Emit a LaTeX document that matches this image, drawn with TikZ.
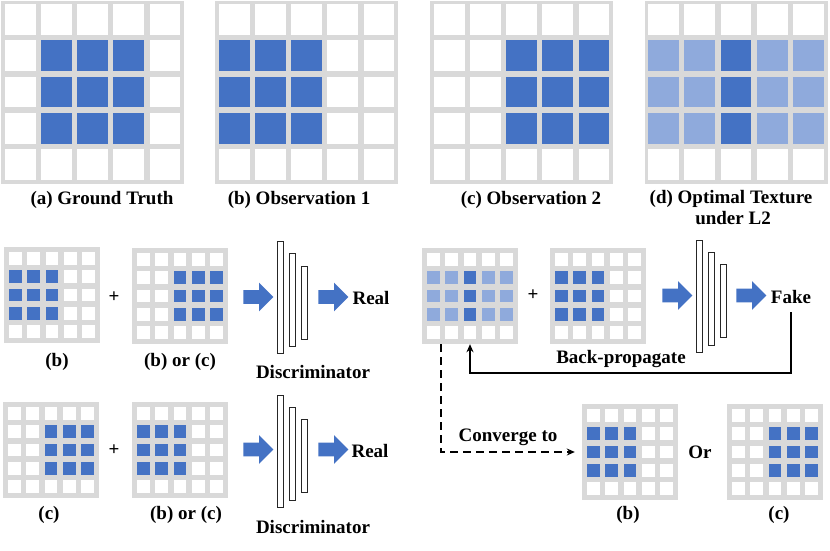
\documentclass[tikz,border=0pt]{standalone}
\usepackage{fontspec}
\setmainfont{Liberation Serif}
\usetikzlibrary{shapes,arrows.meta,positioning}

\definecolor{cellblue}{HTML}{4472C4}
\definecolor{celllight}{HTML}{8FAADC}
\definecolor{gridgray}{HTML}{D9D9D9}

\tikzstyle{caption} = [font=\fontsize{19}{21}\selectfont\bfseries,
                       inner sep=0pt, anchor=base]
\tikzstyle{gridbox} = [fill=gridgray, inner sep=0pt]
\tikzstyle{layer} = [draw=black!85, fill=white, line width=1pt,
                     inner sep=0pt, minimum width=6.3pt]
\tikzstyle{flow} = [single arrow, fill=cellblue, inner xsep=0pt,
                    inner ysep=6.75pt, text height=0pt, text depth=0pt,
                    minimum height=30pt, single arrow head extend=7.5pt]
\tikzstyle{feedback} = [line width=2pt, -{Stealth[length=8pt,width=7pt]}]
\tikzstyle{converge} = [feedback, dash pattern=on 8pt off 5pt]

% coloured columns of rows 1-3
\def\patA{1/cellblue,2/cellblue,3/cellblue}
\def\patB{0/cellblue,1/cellblue,2/cellblue}
\def\patC{2/cellblue,3/cellblue,4/cellblue}
\def\patD{0/celllight,1/celllight,2/cellblue,3/celllight,4/celllight}

% name, centre, size, pitch, cell, pattern
\newcommand{\texgrid}[6]{%
  \node[gridbox, minimum size=#3] (#1) at (#2) {};
  \foreach \col in {0,...,4}
    \foreach \row in {0,...,4}
      \fill[white, shift={(#1.center)}]
        ({(\col-2)*#4-#5/2},{(\row-2)*#4-#5/2}) rectangle ++(#5,#5);
  \foreach \col/\tone in #6
    \foreach \row in {1,2,3}
      \fill[\tone, shift={(#1.center)}]
        ({(\col-2)*#4-#5/2},{(\row-2)*#4-#5/2}) rectangle ++(#5,#5);
}

% name, centre of first layer
\newcommand{\discnet}[2]{%
  \node[layer, minimum height=112pt] (#1a) at (#2) {};
  \node[layer, minimum height=93pt, right=4.7pt of #1a, yshift=-2.8pt] (#1b) {};
  \node[layer, minimum height=73pt, right=4.7pt of #1b, yshift=-2.5pt] (#1c) {};
}

\begin{document}
\begin{tikzpicture}[x=1pt, y=-1pt]
  \useasboundingbox (0,0) rectangle (830,550);

  % ground truth, observations, L2 optimum
  \texgrid{ga}{92.5,92}{183}{36.2}{30.8}{\patA}
  \texgrid{gb}{306.5,92}{183}{36.2}{30.8}{\patB}
  \texgrid{gc}{521.5,92}{183}{36.2}{30.8}{\patC}
  \texgrid{gd}{736,92}{183}{36.2}{30.8}{\patD}
  \node[caption] (ta) at (102,204) {(a) Ground Truth};
  \node[caption] (tb) at (299,204) {(b) Observation 1};
  \node[caption] (tc) at (531,204) {(c) Observation 2};
  \node[caption] (td) at (731,203) {(d) Optimal Texture};
  \node[caption] (tdl) at (733,224) {under L2};

  % real pairs
  \texgrid{m1}{52,295}{96}{18.3}{12.7}{\patB}
  \texgrid{m2}{180,296}{96}{18.3}{12.7}{\patC}
  \node[caption, anchor=center] (plus1) at (114,297) {+};
  \node[caption] (lm1) at (57,366) {(b)};
  \node[caption] (lm2) at (180,366) {(b) or (c)};
  \node[flow] (in1) at (255,297) {};
  \discnet{dtop}{280.7,297.2}
  \node[flow] (out1) at (330,297) {};
  \node[caption] (real1) at (371,304) {Real};
  \node[caption] (dname1) at (313,378) {Discriminator};

  \texgrid{b1}{51,450}{96}{18.3}{12.7}{\patC}
  \texgrid{b2}{180,450}{96}{18.3}{12.7}{\patB}
  \node[caption, anchor=center] (plus2) at (114,450) {+};
  \node[caption] (lb1) at (49,519) {(c)};
  \node[caption] (lb2) at (186,519) {(b) or (c)};
  \node[flow] (in2) at (255,449.5) {};
  \discnet{dbot}{280.7,451}
  \node[flow] (out2) at (330,449.5) {};
  \node[caption] (real2) at (370,457) {Real};
  \node[caption] (dname2) at (313,533) {Discriminator};

  % fake pair
  \texgrid{m3}{470,296}{96}{18.3}{12.7}{\patD}
  \texgrid{m4}{598,296}{96}{18.3}{12.7}{\patB}
  \node[caption, anchor=center] (plus3) at (533,295) {+};
  \node[flow] (in3) at (674,295.5) {};
  \discnet{dfake}{699.5,296}
  \node[flow] (out3) at (748,295.5) {};
  \node[caption] (fake) at (791,303) {Fake};
  \node[caption] (bp) at (621,363) {Back-propagate};
  \draw[feedback, shorten <=9pt] (fake.south) -- ++(0,70) -| (m3.south);

  % converged results
  \texgrid{b3}{630,452}{96}{18.3}{12.7}{\patB}
  \texgrid{b4}{775,452}{96}{18.3}{12.7}{\patC}
  \node[caption] (or) at (700,458) {Or};
  \node[caption] (lb3) at (628,519) {(b)};
  \node[caption] (lb4) at (779,519) {(c)};
  \node[caption] (conv) at (508,441) {Converge to};
  \draw[converge, shorten >=7pt] ([xshift=-29pt]m3.south) |- (b3.west);
\end{tikzpicture}
\end{document}
